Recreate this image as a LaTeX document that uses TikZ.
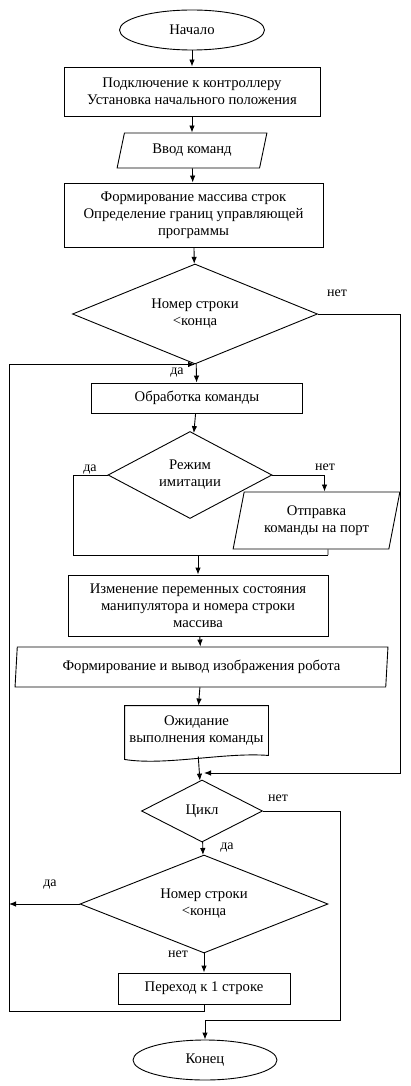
\documentclass[tikz,border=0pt]{standalone}
\usepackage{fontspec}
\setmainfont{Liberation Serif}
\usetikzlibrary{shapes.geometric,arrows.meta}
\tikzset{
  >={Latex[length=7pt,width=5.5pt]},
}
\tikzstyle{every node}=[font=\fontsize{14.7}{17}\selectfont]
\tikzstyle{terminal}=[draw,ellipse,minimum width=145pt,minimum height=40pt,inner sep=0pt]
\tikzstyle{block}=[draw,rectangle,align=center,inner sep=0pt]
\tikzstyle{io}=[draw,trapezium,trapezium stretches=true,align=center,inner sep=0pt]
\tikzstyle{decision}=[draw,diamond,align=center,inner sep=0pt]
\tikzstyle{answer}=[font=\fontsize{14}{16}\selectfont]

\begin{document}
\begin{tikzpicture}[x=1pt,y=-1pt,line width=0.9pt]
    \useasboundingbox (0,0) rectangle (410,1086);

    \node[terminal] (start) at (192,30) {Начало};
    \node[block,minimum width=256pt,minimum height=49pt] (init) at (192,91.5)
      {Подключение к контроллеру\\Установка начального положения};
    \node[io,trapezium left angle=71,trapezium right angle=109,minimum width=151pt,minimum height=35pt]
      (input) at (192,150.5) {Ввод команд};
    \node[block,minimum width=259pt,minimum height=64pt] (arr) at (193.5,215)
      {Формирование массива строк\\Определение границ управляющей\\программы};
    \node[decision,aspect=2.45,minimum width=245pt,minimum height=100pt] (cond1) at (195,314)
      {Номер строки\\<конца};
    \node[block,minimum width=211pt,minimum height=30pt] (proc) at (197,398) {Обработка команды};
    \node[decision,aspect=1.9,minimum width=164pt,minimum height=87pt] (mode) at (190,475)
      {Режим\\имитации};
    \node[io,trapezium left angle=75,trapezium right angle=105,minimum width=167pt,minimum height=57pt]
      (send) at (316.5,520.5) {Отправка\\команды на порт};
    \node[block,minimum width=260pt,minimum height=61pt] (change) at (198,605.5)
      {Изменение переменных состояния\\манипулятора и номера строки\\массива};
    \node[io,trapezium left angle=83,trapezium right angle=97,minimum width=373pt,minimum height=40pt]
      (drawn) at (201.5,667) {Формирование и вывод изображения робота};
    \node[minimum width=143pt,minimum height=50pt,align=center] (wait) at (196.5,731)
      {Ожидание\\выполнения команды};
    \draw (wait.north west) -- (wait.north east) -- ([yshift=1pt]wait.south east)
      .. controls (225,752) and (165,766) .. ([yshift=-3pt]wait.south west) -- cycle;
    \node[decision,aspect=2,minimum width=121pt,minimum height=62pt] (cycle) at (202,811) {Цикл};
    \node[decision,aspect=2.5,minimum width=248pt,minimum height=98pt] (cond2) at (204,904)
      {Номер строки\\<конца};
    \node[block,minimum width=172pt,minimum height=31pt] (jump) at (204,988.5) {Переход к 1 строке};
    \node[terminal,minimum width=144pt] (finish) at (205,1060) {Конец};

    \coordinate (rc) at (400,773);
    \coordinate (rin) at (204,773);
    \coordinate (lft) at (73,555);
    \coordinate (rgt) at (328,555);
    \coordinate (mj) at (198,555);
    \coordinate (lp) at (9,904);
    \coordinate (lb) at (9,1011);
    \coordinate (rb) at (340,1020);

    \draw[->] (start) -- (init);
    \draw[->] (init) -- (input);
    \draw[->] (input) -- (arr);
    \draw[->] (arr) -- (cond1);
    \draw[->] (cond1) -- (proc);
    \draw[->] (proc) -- (mode);
    \draw[->] (cond1.east) -| (rc) -- (rin);
    \draw (mode.west) -| (lft) -- (rgt);
    \draw[->] (mode.east) -| ([xshift=8pt]send.north);
    \draw ([xshift=11.5pt]send.south) -- (rgt);
    \draw[->] (mj) -- (change);
    \draw[->] (change) -- (drawn);
    \draw[->] (drawn) -- (wait);
    \draw[->] (wait) -- (cycle);
    \draw[->] (cycle) -- (cond2);
    \draw[->] (cond2) -- (jump);
    \draw[->] (cond2.west) -- (lp);
    \draw[->] (jump.south) |- (lb) |- (cond1.south);
    \draw[->] (cycle.east) -| (rb) -| (finish.north);

    \node[answer] (n1) at (337,293) {нет};
    \node[answer] (y1) at (177,373) {да};
    \node[answer] (y2) at (90,470) {да};
    \node[answer] (n2) at (325,467) {нет};
    \node[answer] (n3) at (278,798) {нет};
    \node[answer] (y3) at (227,848) {да};
    \node[answer] (y4) at (50,885) {да};
    \node[answer] (n4) at (178,954) {нет};
\end{tikzpicture}
\end{document}
